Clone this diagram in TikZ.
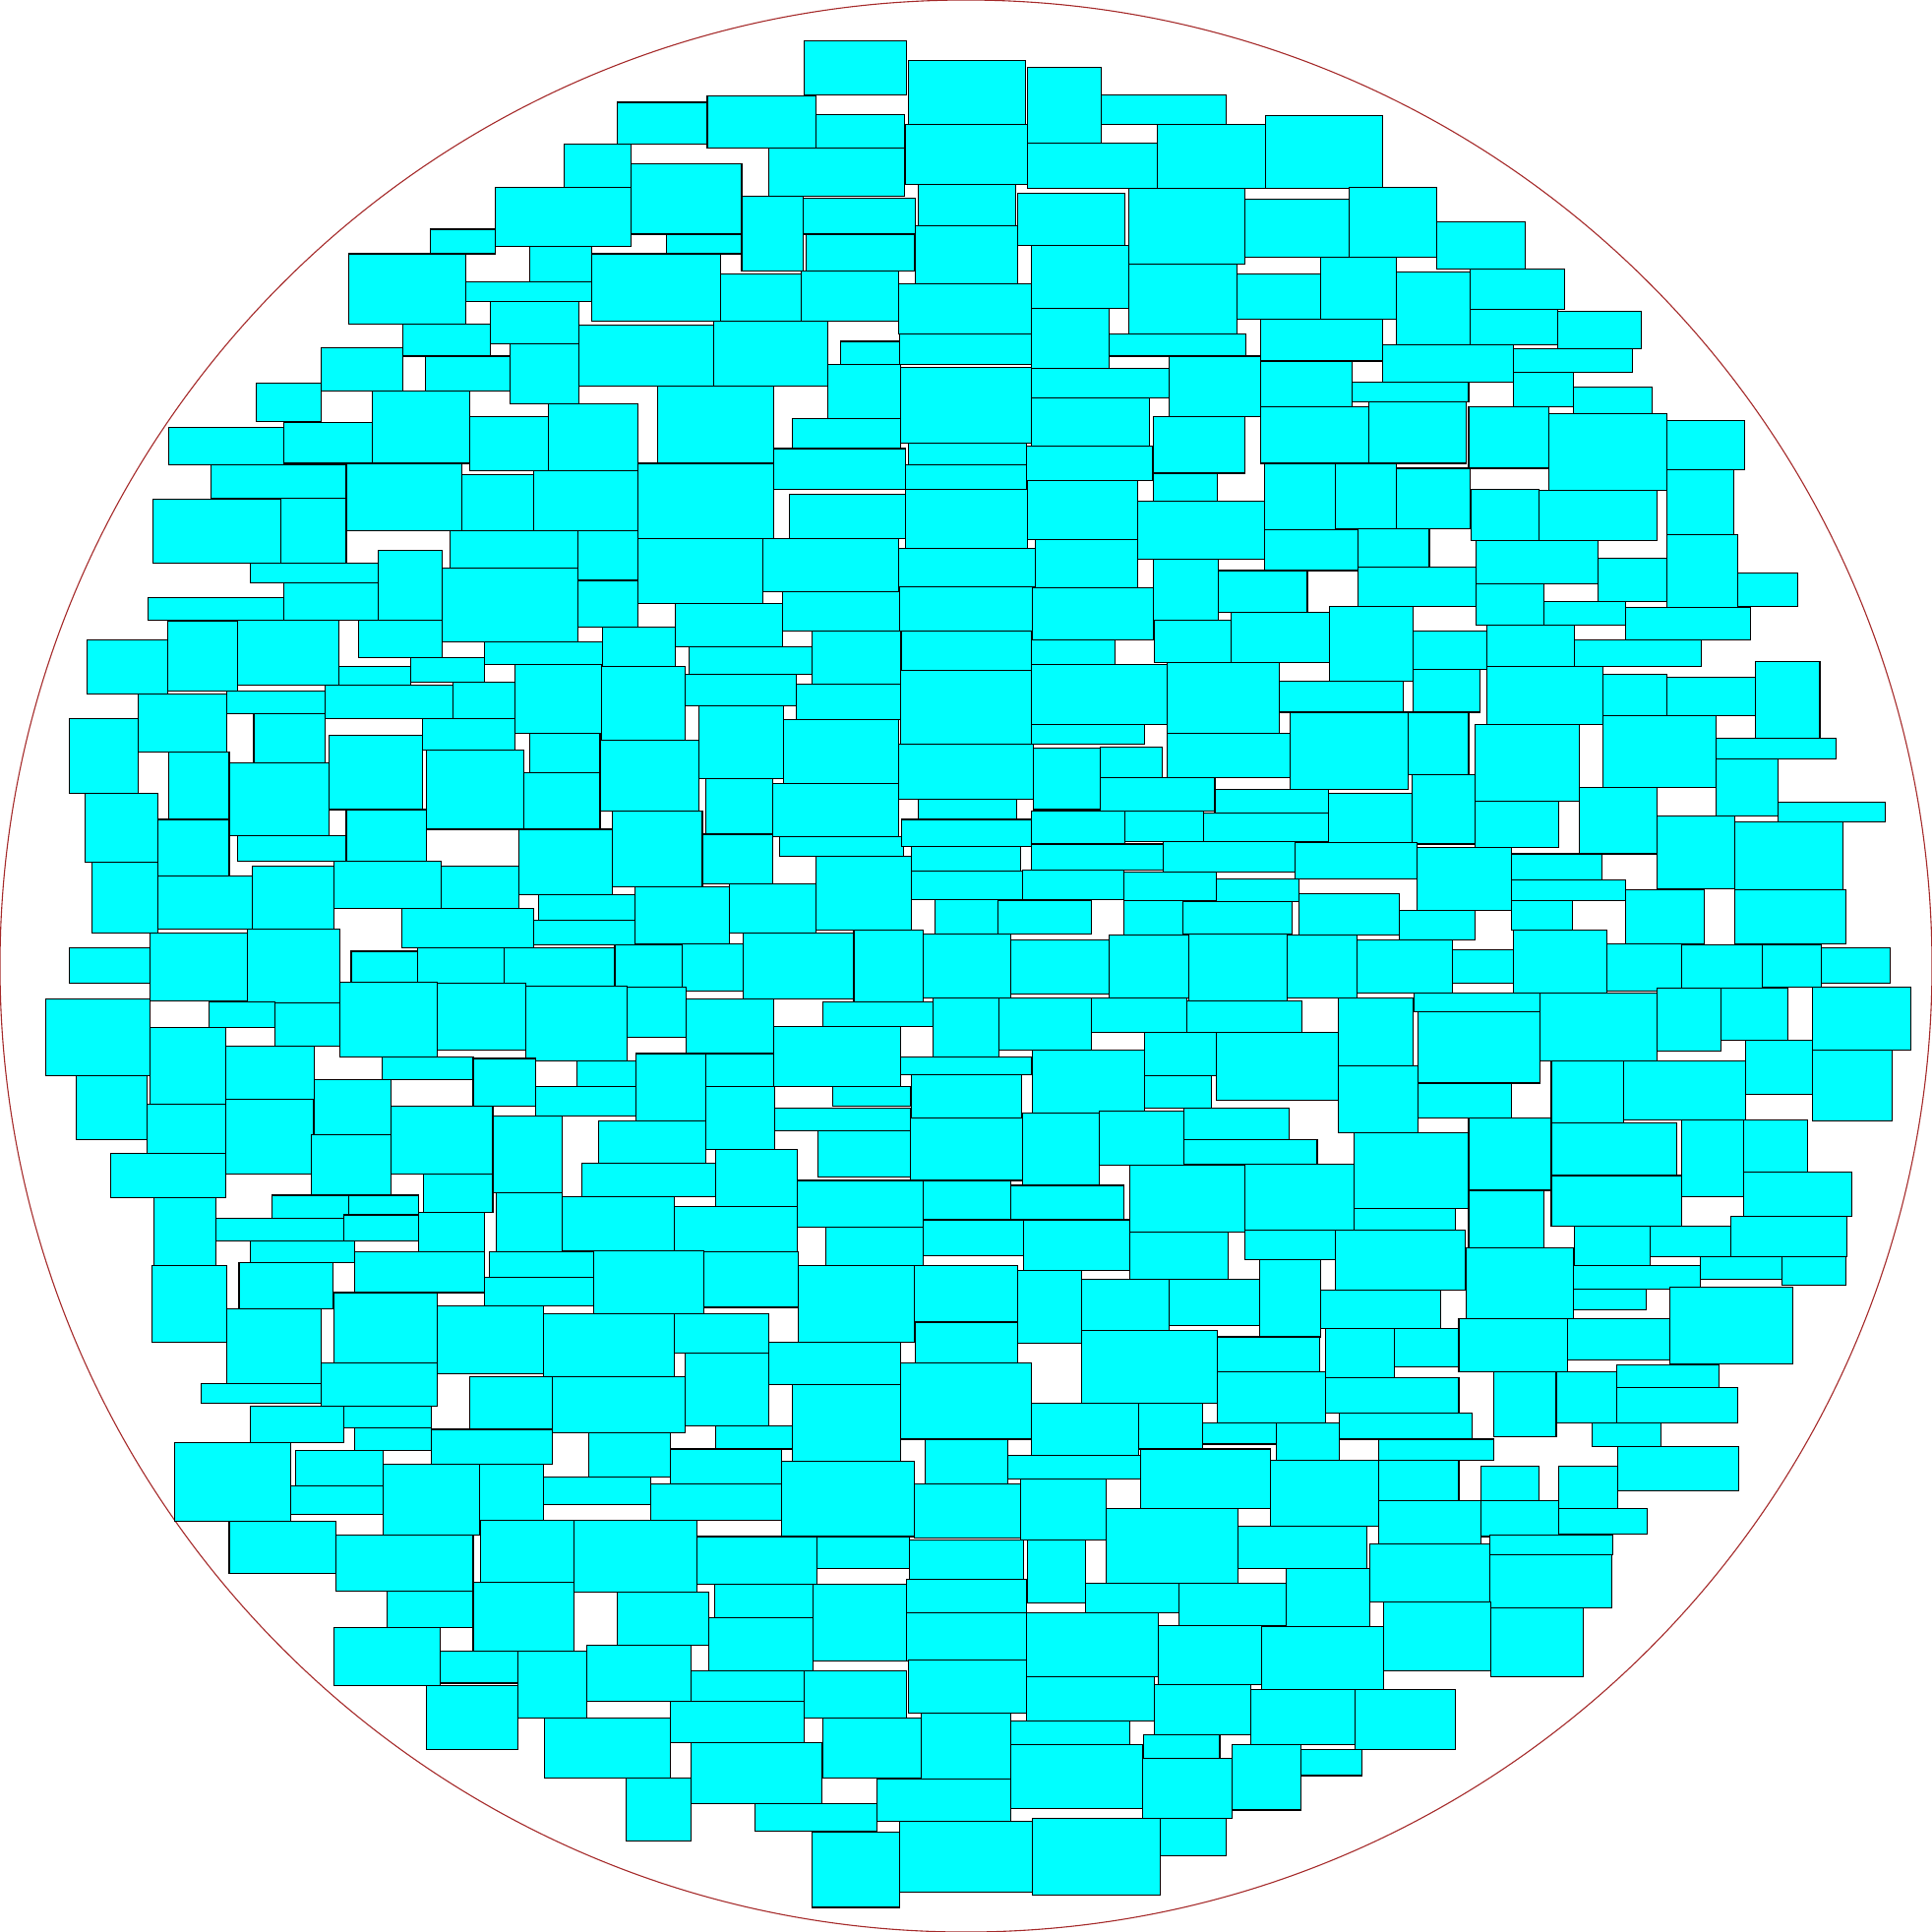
\documentclass[tikz,border=0pt]{standalone}
\usepackage{xcolor}
\usepackage{tikz}
\definecolor{cellfill}{RGB}{0,255,255}
\definecolor{rimred}{RGB}{165,42,42}

\begin{document}
\begin{tikzpicture}[x=0.01cm, y=-0.01cm,
  cell/.style={draw=black, fill=cellfill, line width=0.25pt},
  rim/.style={draw=rimred, line width=0.25pt},
]
  \useasboundingbox (0,0) rectangle (1568,1568);

  % container
  \draw[rim] (784,784) circle (784);

  % top band
  \foreach \xa/\ya/\xb/\yb in {653/33/736/77, 737/49/832/101, 834/55/894/116, 894/77/995/101,
    501/83/574/117, 574/78/662/120, 662/93/734/121, 735/101/834/150, 834/116/939/153,
    939/101/1027/153, 1027/94/1122/153, 458/117/512/152, 512/133/602/190, 624/120/734/159,
    402/152/512/200, 745/150/824/183, 826/157/913/199, 916/153/1010/214, 1010/162/1095/209,
    1095/152/1166/209, 1166/180/1238/218, 602/159/652/220, 652/161/743/190, 349/186/402/206,
    541/190/602/206, 654/190/742/220, 743/183/826/230, 837/199/916/250, 916/214/1004/271,
    1004/222/1072/259, 1072/209/1133/259, 1133/221/1193/280, 1193/218/1270/251,
    283/206/378/263, 430/200/480/229, 378/229/480/245, 480/206/585/261, 585/222/650/261,
    650/220/729/261, 729/230/837/271, 398/245/470/279, 327/263/398/289, 470/264/579/313,
    579/261/672/313, 682/277/730/296, 730/271/837/296, 837/250/900/299, 900/271/1011/289,
    1023/259/1122/293, 1193/251/1264/280, 1264/253/1332/283, 1122/280/1228/310,
    1228/283/1325/302, 261/282/327/317, 345/289/414/317, 414/279/470/328, 672/296/731/340,
    731/298/837/360, 837/299/949/323, 949/289/1023/338, 1023/293/1097/330, 1097/310/1192/326,
    1228/302/1277/330, 1277/314/1341/336}
    \draw[cell] (\xa,\ya) rectangle (\xb,\yb);

  % upper band
  \foreach \xa/\ya/\xb/\yb in {208/311/261/342, 302/317/381/376, 381/338/445/382,
    445/328/518/382, 534/313/628/376, 643/340/731/364, 837/323/933/362, 936/338/1010/384,
    1023/330/1111/376, 1111/326/1190/376, 1192/330/1257/380, 1257/336/1353/398,
    1353/341/1416/381, 137/347/230/377, 230/343/302/376, 171/377/281/404, 281/376/375/431,
    375/385/433/431, 433/382/518/431, 518/376/628/437, 628/364/735/397, 737/360/833/377,
    735/377/833/397, 833/362/935/390, 936/384/988/407, 1026/376/1084/430, 1084/376/1133/429,
    1133/380/1193/429, 1194/397/1249/439, 1249/398/1345/439, 1353/381/1407/434,
    124/405/228/457, 228/404/281/457, 641/401/735/437, 735/397/834/445, 834/390/923/438,
    923/407/1026/454, 365/431/469/461, 469/431/518/471, 518/437/619/490, 619/437/729/480,
    729/445/840/476, 840/438/923/477, 1026/430/1102/463, 1102/429/1160/460,
    1198/439/1297/474, 1297/453/1353/488, 1353/434/1410/493, 1410/465/1459/492,
    203/457/307/473, 307/447/359/503, 359/461/469/521, 469/471/518/509, 230/473/307/503,
    120/485/230/503, 936/454/989/503, 989/463/1061/497, 1102/460/1198/492, 1198/474/1253/507,
    1253/488/1319/507, 1319/493/1421/519, 548/490/635/525, 635/480/730/512, 730/476/838/512,
    838/477/936/519}
    \draw[cell] (\xa,\ya) rectangle (\xb,\yb);

  % middle-upper band
  \foreach \xa/\ya/\xb/\yb in {71/519/136/563, 136/504/193/561, 193/503/275/556,
    291/503/359/534, 393/521/489/539, 489/509/548/541, 559/525/659/547, 659/512/731/555,
    732/512/837/544, 837/519/905/539, 937/503/999/538, 999/497/1079/538, 1079/492/1147/553,
    1147/512/1207/543, 1207/507/1278/541, 1278/519/1381/541, 275/541/333/556,
    333/534/393/554, 264/556/368/583, 368/554/418/583, 418/539/488/595, 488/541/556/601,
    556/547/646/573, 646/555/731/584, 731/544/837/604, 837/539/947/588, 947/538/1038/595,
    1038/553/1139/578, 1147/543/1201/578, 1207/541/1301/588, 1301/547/1353/581,
    1353/550/1425/581, 1425/537/1477/599, 112/563/184/610, 184/561/264/579, 56/583/112/644,
    206/579/264/619, 343/583/418/609, 567/573/636/632, 636/584/729/636, 837/588/929/604,
    1047/578/1143/641, 1143/578/1192/629, 1197/588/1282/650, 1301/581/1393/639,
    1393/599/1490/616, 137/610/186/665, 186/619/267/678, 267/597/343/657, 346/609/425/673,
    430/595/487/627, 487/601/567/658, 729/604/839/649, 839/607/893/657, 893/606/943/631,
    947/595/1047/631, 1393/616/1443/662, 69/644/128/700, 425/627/487/673, 573/632/627/677,
    627/636/729/679, 745/649/825/665, 893/631/986/658, 986/641/1078/660, 1078/644/1146/685,
    1146/629/1197/685, 1197/650/1265/688, 1282/639/1345/693, 1443/651/1530/667}
    \draw[cell] (\xa,\ya) rectangle (\xb,\yb);

  % middle band
  \foreach \xa/\ya/\xb/\yb in {128/665/186/711, 193/678/281/699, 281/657/346/699,
    421/673/497/726, 497/658/570/720, 570/677/627/717, 633/679/733/695, 732/665/837/687,
    837/658/913/685, 913/658/977/683, 977/660/1078/683, 1345/662/1408/721, 1408/667/1496/722,
    75/700/128/757, 128/711/205/754, 205/703/271/754, 271/699/358/737, 358/703/421/737,
    740/687/828/707, 837/685/944/706, 944/683/1051/708, 1051/684/1150/713, 1150/688/1227/739,
    1227/693/1300/714, 662/695/740/755, 740/707/830/730, 830/706/912/730, 912/708/987/731,
    987/713/1054/732, 1227/714/1319/731, 1319/722/1383/766, 1408/722/1498/766,
    326/737/433/769, 437/726/515/747, 433/747/515/767, 515/720/592/766, 592/717/662/757,
    759/730/810/758, 810/731/886/758, 912/731/960/759, 960/732/1049/758, 1054/725/1136/759,
    1136/739/1197/763, 1227/731/1276/755, 56/769/122/798, 122/757/201/812, 201/754/276/814,
    285/772/339/797, 339/769/409/798, 409/769/499/800, 499/767/554/801, 554/766/603/804,
    603/757/693/811, 693/755/749/813, 749/758/820/810, 820/763/900/807, 900/759/965/810,
    965/758/1045/812, 1045/759/1101/810, 1101/763/1179/806, 1179/771/1228/798,
    1228/755/1304/806, 1304/766/1365/804, 1365/767/1430/802, 1430/767/1478/801,
    1478/769/1534/798}
    \draw[cell] (\xa,\ya) rectangle (\xb,\yb);

  % middle-lower band
  \foreach \xa/\ya/\xb/\yb in {37/811/122/873, 170/813/223/834, 223/814/276/849,
    276/797/355/858, 355/798/427/852, 427/800/509/861, 509/801/557/842, 557/811/628/855,
    668/813/757/833, 757/810/811/858, 811/810/886/852, 886/810/963/838, 963/812/1057/838,
    1086/810/1147/865, 1148/806/1250/821, 1250/806/1345/861, 1345/802/1397/853,
    1397/802/1451/844, 1471/801/1551/852, 122/834/183/896, 183/849/255/892, 310/858/384/876,
    384/859/435/898, 468/861/516/883, 516/855/573/910, 573/855/628/882, 628/833/731/882,
    731/858/837/872, 838/852/929/903, 929/838/987/873, 987/838/1086/893, 1151/821/1250/879,
    1417/844/1471/888, 1471/852/1536/910, 62/873/119/925, 255/876/317/921, 317/898/400/953,
    435/882/516/906, 573/882/629/933, 676/882/739/898, 740/872/829/907, 929/873/983/899,
    1086/865/1151/919, 1151/879/1227/907, 1259/861/1318/911, 1318/861/1417/909,
    119/896/183/936, 183/892/254/953, 400/906/456/968, 486/910/573/944, 629/899/739/918,
    664/918/739/955, 739/907/830/958, 830/903/892/962, 892/902/961/946, 961/899/1046/925,
    961/925/1069/945, 1099/919/1192/981, 1192/907/1259/966, 1259/911/1361/954,
    1365/909/1415/971, 1415/909/1467/951, 90/936/183/972, 253/921/317/970, 344/953/400/984,
    472/944/581/971, 581/933/647/979, 647/958/749/996, 749/958/820/990, 820/962/912/990,
    917/946/1010/1000, 1010/945/1099/998, 1259/954/1365/995, 1415/951/1503/987}
    \draw[cell] (\xa,\ya) rectangle (\xb,\yb);

  % lower band
  \foreach \xa/\ya/\xb/\yb in {125/972/175/1027, 221/970/283/989, 283/970/340/986,
    175/989/279/1007, 279/986/340/1007, 340/984/393/1016, 403/968/456/1016, 456/971/547/1015,
    547/979/647/1016, 670/996/749/1027, 749/990/831/1019, 831/990/917/1031, 917/1000/997/1038,
    1010/998/1084/1022, 1084/998/1189/1047, 1099/981/1181/998, 1192/966/1253/1013,
    1278/995/1339/1027, 1339/995/1405/1020, 1405/987/1499/1020, 203/1007/288/1025,
    288/1016/393/1049, 397/1016/482/1037, 393/1037/482/1060, 482/1015/571/1066,
    571/1016/648/1061, 123/1027/184/1089, 194/1025/270/1062, 648/1027/742/1089,
    742/1027/826/1073, 826/1031/878/1090, 878/1038/949/1080, 949/1038/1022/1076,
    1022/1022/1072/1085, 1072/1047/1169/1078, 1190/1013/1277/1070, 1277/1027/1380/1046,
    1380/1020/1446/1038, 1446/1020/1498/1043, 1277/1046/1336/1063, 1355/1045/1455/1107,
    184/1062/261/1123, 271/1049/355/1106, 355/1060/441/1115, 441/1066/547/1117,
    547/1066/624/1098, 624/1089/731/1124, 743/1073/826/1106, 878/1080/988/1139,
    988/1085/1071/1113, 1076/1078/1132/1118, 1132/1078/1184/1109, 1184/1070/1272/1113,
    1272/1070/1355/1104, 163/1123/261/1139, 261/1106/355/1141, 381/1117/448/1160,
    448/1117/556/1163, 556/1098/624/1157, 643/1124/731/1186, 731/1106/837/1168,
    837/1139/924/1181, 924/1139/976/1176, 988/1113/1076/1155, 1076/1118/1184/1147,
    1212/1113/1263/1166, 1263/1113/1312/1155, 1312/1108/1395/1126, 1312/1126/1410/1155}
    \draw[cell] (\xa,\ya) rectangle (\xb,\yb);

  % bottom band
  \foreach \xa/\ya/\xb/\yb in {203/1141/279/1171, 279/1141/350/1159, 288/1159/350/1177,
    350/1160/448/1188, 478/1163/544/1199, 581/1157/643/1176, 976/1155/1036/1172,
    1036/1155/1087/1185, 1087/1147/1195/1168, 1292/1155/1348/1174, 142/1171/236/1235,
    240/1177/311/1206, 236/1206/311/1229, 311/1188/389/1246, 389/1188/441/1234,
    441/1199/528/1221, 528/1204/634/1234, 544/1176/634/1204, 634/1186/742/1247,
    751/1168/818/1204, 818/1181/926/1200, 926/1176/1031/1224, 1031/1185/1119/1239,
    1119/1168/1212/1185, 1119/1185/1184/1218, 1313/1174/1411/1210, 742/1204/828/1248,
    828/1200/898/1250, 898/1224/1005/1285, 1005/1239/1109/1273, 1119/1218/1202/1253,
    1202/1190/1249/1218, 1265/1190/1313/1224, 1202/1218/1265/1247, 1265/1224/1337/1245,
    186/1235/273/1277, 273/1246/384/1291, 390/1234/466/1284, 466/1234/566/1292,
    566/1247/663/1286, 663/1247/738/1273, 738/1250/831/1282, 834/1250/881/1301,
    1112/1253/1209/1300, 1209/1246/1309/1262, 1209/1262/1308/1305, 314/1291/384/1321,
    384/1284/466/1340, 501/1292/575/1335, 580/1286/660/1313, 660/1286/736/1348,
    736/1282/833/1309, 881/1285/957/1309, 957/1285/1044/1319, 1044/1273/1112/1320,
    1123/1300/1210/1356, 1210/1305/1285/1361}
    \draw[cell] (\xa,\ya) rectangle (\xb,\yb);

  % base band
  \foreach \xa/\ya/\xb/\yb in {271/1321/357/1368, 357/1340/420/1366, 420/1340/476/1394,
    476/1335/561/1381, 575/1313/660/1356, 736/1309/833/1348, 833/1309/940/1361,
    940/1319/1024/1367, 1024/1320/1123/1371, 561/1356/653/1381, 653/1356/736/1394,
    737/1347/833/1390, 833/1361/937/1397, 346/1368/420/1420, 544/1381/653/1414,
    937/1367/1015/1408, 1015/1371/1100/1416, 1100/1371/1181/1420, 442/1394/544/1443,
    668/1394/748/1443, 748/1390/820/1444, 820/1397/917/1416, 928/1408/990/1427,
    561/1414/667/1464, 820/1416/927/1468, 927/1427/1000/1476, 1000/1416/1056/1469,
    1056/1420/1105/1441, 508/1443/561/1494, 712/1444/820/1478, 613/1464/712/1486,
    730/1478/838/1536, 838/1476/942/1538, 942/1476/995/1506, 659/1487/730/1548}
    \draw[cell] (\xa,\ya) rectangle (\xb,\yb);
\end{tikzpicture}
\end{document}
